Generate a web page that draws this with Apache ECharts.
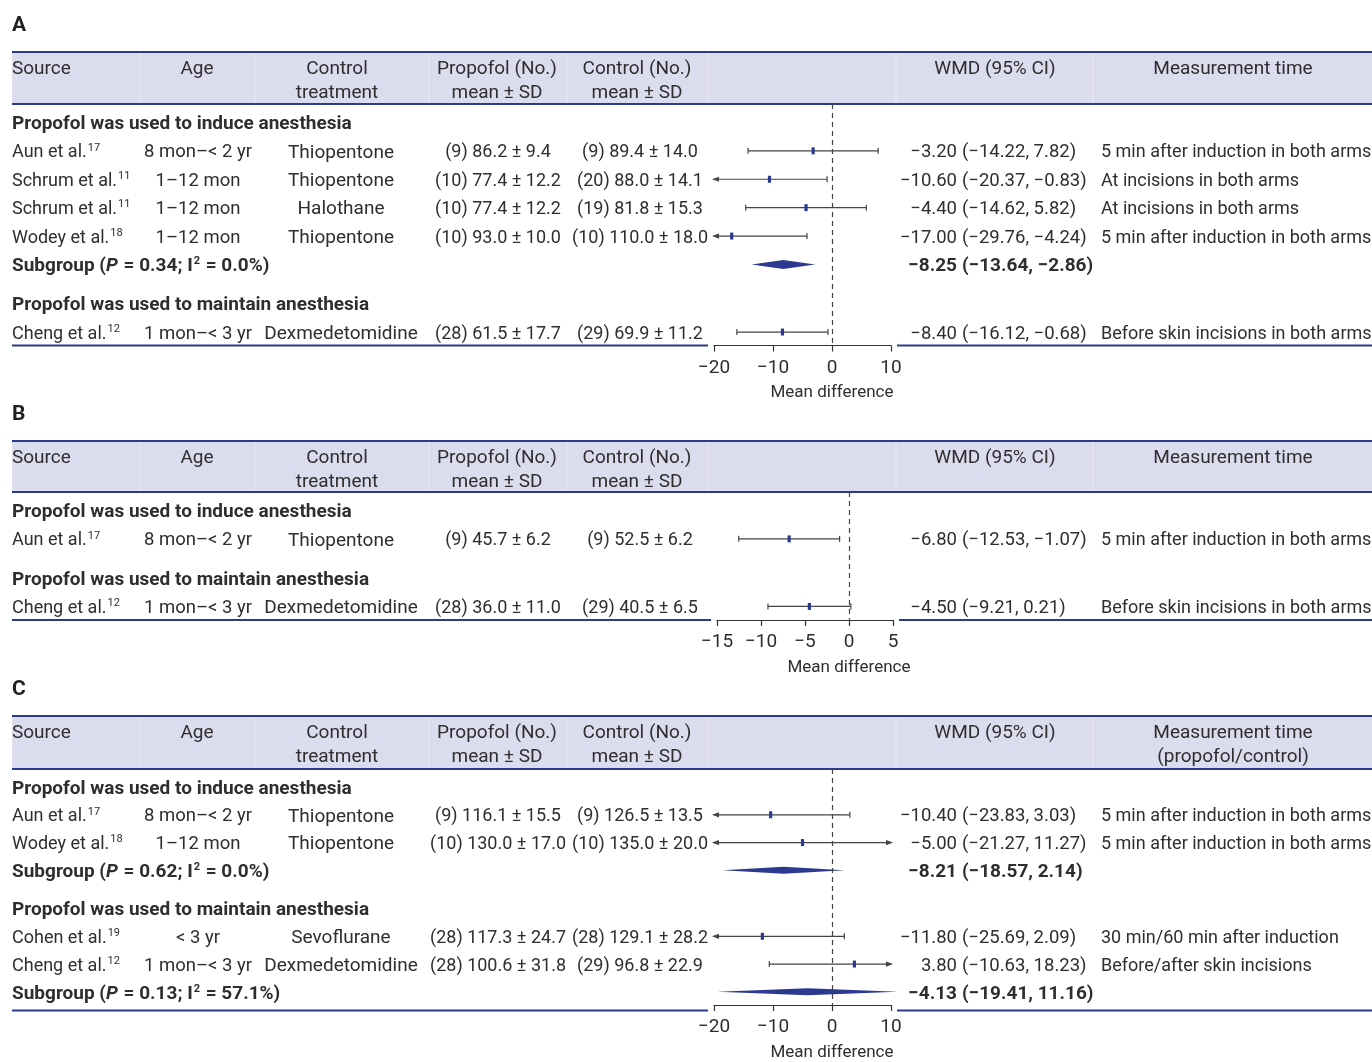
<!DOCTYPE html>
<html><head><meta charset="utf-8">
<script src="https://cdn.jsdelivr.net/npm/echarts@6/dist/echarts.min.js"></script>
<style>html,body{margin:0;padding:0;background:#fff}#c{width:1372px;height:1062px}</style>
</head><body><div id="c"></div>
<script>
// ---------------- DATA ----------------
const groupTitles = ['Propofol was used to induce anesthesia', 'Propofol was used to maintain anesthesia'];
const headerCols = ['Source', 'Age', 'Control\ntreatment', 'Propofol (No.)\nmean ± SD', 'Control (No.)\nmean ± SD', 'WMD (95% CI)'];
const axisName = 'Mean difference';

// Panel A
const A_source = ['Aun et al.', 'Schrum et al.', 'Schrum et al.', 'Wodey et al.', 'Cheng et al.'];
const A_ref = ['17', '11', '11', '18', '12'];
const A_group = [0, 0, 0, 0, 1];
const A_age = ['8 mon–< 2 yr', '1–12 mon', '1–12 mon', '1–12 mon', '1 mon–< 3 yr'];
const A_control = ['Thiopentone', 'Thiopentone', 'Halothane', 'Thiopentone', 'Dexmedetomidine'];
const A_propN = [9, 10, 10, 10, 28];
const A_propMean = [86.2, 77.4, 77.4, 93.0, 61.5];
const A_propSD = [9.4, 12.2, 12.2, 10.0, 17.7];
const A_ctrlN = [9, 20, 19, 10, 29];
const A_ctrlMean = [89.4, 88.0, 81.8, 110.0, 69.9];
const A_ctrlSD = [14.0, 14.1, 15.3, 18.0, 11.2];
const A_wmd = [-3.20, -10.60, -4.40, -17.00, -8.40];
const A_lo = [-14.22, -20.37, -14.62, -29.76, -16.12];
const A_hi = [7.82, -0.83, 5.82, -4.24, -0.68];
const A_time = ['5 min after induction in both arms', 'At incisions in both arms', 'At incisions in both arms', '5 min after induction in both arms', 'Before skin incisions in both arms'];
const A_subP = [0.34, null];
const A_subI2 = [0.0, null];
const A_subWmd = [-8.25, null];
const A_subLo = [-13.64, null];
const A_subHi = [-2.86, null];
const A_ticks = [-20, -10, 0, 10];
const A_timeHeader = 'Measurement time';

// Panel B
const B_source = ['Aun et al.', 'Cheng et al.'];
const B_ref = ['17', '12'];
const B_group = [0, 1];
const B_age = ['8 mon–< 2 yr', '1 mon–< 3 yr'];
const B_control = ['Thiopentone', 'Dexmedetomidine'];
const B_propN = [9, 28];
const B_propMean = [45.7, 36.0];
const B_propSD = [6.2, 11.0];
const B_ctrlN = [9, 29];
const B_ctrlMean = [52.5, 40.5];
const B_ctrlSD = [6.2, 6.5];
const B_wmd = [-6.80, -4.50];
const B_lo = [-12.53, -9.21];
const B_hi = [-1.07, 0.21];
const B_time = ['5 min after induction in both arms', 'Before skin incisions in both arms'];
const B_subP = [null, null];
const B_subI2 = [null, null];
const B_subWmd = [null, null];
const B_subLo = [null, null];
const B_subHi = [null, null];
const B_ticks = [-15, -10, -5, 0, 5];
const B_timeHeader = 'Measurement time';

// Panel C
const C_source = ['Aun et al.', 'Wodey et al.', 'Cohen et al.', 'Cheng et al.'];
const C_ref = ['17', '18', '19', '12'];
const C_group = [0, 0, 1, 1];
const C_age = ['8 mon–< 2 yr', '1–12 mon', '< 3 yr', '1 mon–< 3 yr'];
const C_control = ['Thiopentone', 'Thiopentone', 'Sevoflurane', 'Dexmedetomidine'];
const C_propN = [9, 10, 28, 28];
const C_propMean = [116.1, 130.0, 117.3, 100.6];
const C_propSD = [15.5, 17.0, 24.7, 31.8];
const C_ctrlN = [9, 10, 28, 29];
const C_ctrlMean = [126.5, 135.0, 129.1, 96.8];
const C_ctrlSD = [13.5, 20.0, 28.2, 22.9];
const C_wmd = [-10.40, -5.00, -11.80, 3.80];
const C_lo = [-23.83, -21.27, -25.69, -10.63];
const C_hi = [3.03, 11.27, 2.09, 18.23];
const C_time = ['5 min after induction in both arms', '5 min after induction in both arms', '30 min/60 min after induction', 'Before/after skin incisions'];
const C_subP = [0.62, 0.13];
const C_subI2 = [0.0, 57.1];
const C_subWmd = [-8.21, -4.13];
const C_subLo = [-18.57, -19.41];
const C_subHi = [2.14, 11.16];
const C_ticks = [-20, -10, 0, 10];
const C_timeHeader = 'Measurement time\n(propofol/control)';

// ---------------- STYLE / LAYOUT ----------------
const TXT = '#2e2e2e';
const NAVY = '#2c3a8e';
const MARK = '#2b3990';
const HEADBG = '#dcdcef';
const CI = '#444';
const FF = 'Roboto';
const REG = '18px ' + FF, BOLD = 'bold 19px ' + FF, ITB = 'italic bold 19px ' + FF;
const HDR = '19px ' + FF, CTRLF = '19px ' + FF, AGEF = '18.5px ' + FF, WMDF = '18.5px ' + FF, WMDB = 'bold 19px ' + FF;
const SUP = '11px ' + FF, SUPB = 'bold 11px ' + FF;
const TDY = 2;
const UNIT = 28.4, SPACER = 0.38, TOP_PAD = 0.65, BOT_PAD = 0.475;
const COL = {source: 12, age: 198, control: 341, prop: 498, ctrl: 640, wmdEst: 957, wmdCI: 962, time: 1101};
const HCOL = {source: 12, age: 197, control: 337, prop: 497, ctrl: 637, wmd: 995, time: 1233};

const panels = [
  {letter: 'A', headerTop: 52, headerBottom: 104, pxPerUnit: 5.9, zeroX: 832,
   source: A_source, ref: A_ref, group: A_group, age: A_age, control: A_control,
   propN: A_propN, propMean: A_propMean, propSD: A_propSD, ctrlN: A_ctrlN, ctrlMean: A_ctrlMean, ctrlSD: A_ctrlSD,
   wmd: A_wmd, lo: A_lo, hi: A_hi, time: A_time, subP: A_subP, subI2: A_subI2, subWmd: A_subWmd, subLo: A_subLo, subHi: A_subHi,
   ticks: A_ticks, timeHeader: A_timeHeader, diamondH: 4.5},
  {letter: 'B', headerTop: 441, headerBottom: 492, pxPerUnit: 8.8, zeroX: 849,
   source: B_source, ref: B_ref, group: B_group, age: B_age, control: B_control,
   propN: B_propN, propMean: B_propMean, propSD: B_propSD, ctrlN: B_ctrlN, ctrlMean: B_ctrlMean, ctrlSD: B_ctrlSD,
   wmd: B_wmd, lo: B_lo, hi: B_hi, time: B_time, subP: B_subP, subI2: B_subI2, subWmd: B_subWmd, subLo: B_subLo, subHi: B_subHi,
   ticks: B_ticks, timeHeader: B_timeHeader, diamondH: 4.5},
  {letter: 'C', headerTop: 716, headerBottom: 769, pxPerUnit: 5.9, zeroX: 832,
   source: C_source, ref: C_ref, group: C_group, age: C_age, control: C_control,
   propN: C_propN, propMean: C_propMean, propSD: C_propSD, ctrlN: C_ctrlN, ctrlMean: C_ctrlMean, ctrlSD: C_ctrlSD,
   wmd: C_wmd, lo: C_lo, hi: C_hi, time: C_time, subP: C_subP, subI2: C_subI2, subWmd: C_subWmd, subLo: C_subLo, subHi: C_subHi,
   ticks: C_ticks, timeHeader: C_timeHeader, diamondH: 3.5}
];

// ---------------- HELPERS ----------------
const _ctx = document.createElement('canvas').getContext('2d');
function tw(t, f) { _ctx.font = f; return _ctx.measureText(t).width; }
function num(v, d) { return (v < 0 ? '−' : '') + Math.abs(v).toFixed(d); }
function txt(t, x, y, f, align) {
  return {type: 'text', style: {text: t, x: x, y: y + TDY, font: f, fill: TXT, align: align || 'left', verticalAlign: 'middle'}};
}
function segs(x, y, list) {
  const out = []; let cx = x;
  list.forEach(s => {
    out.push({type: 'text', style: {text: s.t, x: cx, y: y + TDY + (s.dy || 0), font: s.f, fill: TXT, align: 'left', verticalAlign: 'middle'}});
    cx += tw(s.t, s.f) + (s.gap || 0);
  });
  return out;
}
function buildRows(P) {
  const rows = []; let y = 0;
  for (let g = 0; g < groupTitles.length; g++) {
    if (g > 0) y += SPACER;
    rows.push({type: 'title', g: g, y: y}); y += 1;
    P.group.forEach((gg, i) => { if (gg === g) { rows.push({type: 'study', i: i, y: y}); y += 1; } });
    if (P.subWmd[g] != null) { rows.push({type: 'sub', g: g, y: y}); y += 1; }
  }
  return {rows: rows, last: y - 1};
}

// ---------------- BUILD OPTION ----------------
const grids = [], xAxes = [], yAxes = [], series = [], graphics = [];

panels.forEach((P, pi) => {
  const {rows, last} = buildRows(P);
  const xmin = P.ticks[0], xmax = P.ticks[P.ticks.length - 1];
  const interval = P.ticks[1] - P.ticks[0];
  const gLeft = P.zeroX + xmin * P.pxPerUnit;
  const gWidth = (xmax - xmin) * P.pxPerUnit;
  const gHeight = (last + BOT_PAD + TOP_PAD) * UNIT;
  const gBottom = P.headerBottom + gHeight;
  const nameShift = P.zeroX - (gLeft + gWidth / 2);
  grids.push({left: gLeft, top: P.headerBottom, width: gWidth, height: gHeight});
  xAxes.push({
    type: 'value', gridIndex: pi, min: xmin, max: xmax, interval: interval,
    axisLine: {show: true, onZero: false, lineStyle: {color: '#333', width: 1.2}},
    axisTick: {show: true, length: 6, lineStyle: {color: '#333', width: 1.2}},
    splitLine: {show: false},
    axisLabel: {fontSize: 19, fontFamily: FF, color: TXT, margin: 13, formatter: v => (v < 0 ? '−' + (-v) : '' + v)},
    name: axisName, nameLocation: 'middle', nameGap: 39,
    nameTextStyle: {fontSize: 17, fontFamily: FF, color: TXT, padding: [0, 0, 0, 2 * nameShift]}
  });
  yAxes.push({type: 'value', gridIndex: pi, min: -TOP_PAD, max: last + BOT_PAD, inverse: true, show: false});

  // text rows
  series.push({
    type: 'custom', xAxisIndex: pi, yAxisIndex: pi, clip: false, silent: true, z: 5,
    data: rows.map(r => [0, r.y]),
    renderItem: function (params, api) {
      const r = rows[params.dataIndex];
      const yc = api.coord([0, r.y])[1];
      let ch = [];
      if (r.type === 'title') {
        ch.push(txt(groupTitles[r.g], COL.source, yc, BOLD));
      } else if (r.type === 'study') {
        const i = r.i;
        ch = ch.concat(segs(COL.source, yc, [{t: P.source[i], f: REG, gap: 1}, {t: P.ref[i], f: SUP, dy: -5}]));
        ch.push(txt(P.age[i], COL.age, yc, AGEF, 'center'));
        ch.push(txt(P.control[i], COL.control, yc, CTRLF, 'center'));
        ch.push(txt('(' + P.propN[i] + ') ' + P.propMean[i].toFixed(1) + ' ± ' + P.propSD[i].toFixed(1), COL.prop, yc, REG, 'center'));
        ch.push(txt('(' + P.ctrlN[i] + ') ' + P.ctrlMean[i].toFixed(1) + ' ± ' + P.ctrlSD[i].toFixed(1), COL.ctrl, yc, REG, 'center'));
        ch.push(txt(num(P.wmd[i], 2), COL.wmdEst, yc, WMDF, 'right'));
        ch.push(txt('(' + num(P.lo[i], 2) + ', ' + num(P.hi[i], 2) + ')', COL.wmdCI, yc, WMDF, 'left'));
        ch.push(txt(P.time[i], COL.time, yc, REG, 'left'));
      } else if (r.type === 'sub') {
        const g = r.g;
        ch = ch.concat(segs(COL.source, yc, [
          {t: 'Subgroup (', f: BOLD}, {t: 'P', f: ITB, gap: 1},
          {t: ' = ' + P.subP[g].toFixed(2) + '; I', f: BOLD, gap: 1},
          {t: '2', f: SUPB, dy: -5, gap: 1},
          {t: ' = ' + P.subI2[g].toFixed(1) + '%)', f: BOLD}]));
        ch.push(txt(num(P.subWmd[g], 2), COL.wmdEst, yc, WMDB, 'right'));
        ch.push(txt('(' + num(P.subLo[g], 2) + ', ' + num(P.subHi[g], 2) + ')', COL.wmdCI, yc, WMDB, 'left'));
      }
      return {type: 'group', children: ch};
    }
  });

  // forest marks
  const fRows = rows.filter(r => r.type !== 'title');
  series.push({
    type: 'custom', xAxisIndex: pi, yAxisIndex: pi, clip: false, silent: true, z: 4,
    data: fRows.map(r => [r.type === 'study' ? P.wmd[r.i] : P.subWmd[r.g], r.y]),
    renderItem: function (params, api) {
      const r = fRows[params.dataIndex];
      const yc = api.coord([0, r.y])[1];
      const X = v => api.coord([v, r.y])[0];
      const ch = [];
      const ls = {stroke: CI, lineWidth: 1.2};
      if (r.type === 'study') {
        const i = r.i, lo = P.lo[i], hi = P.hi[i], est = P.wmd[i];
        const xl = X(Math.max(lo, xmin)), xh = X(Math.min(hi, xmax));
        ch.push({type: 'line', shape: {x1: xl, y1: yc, x2: xh, y2: yc}, style: ls});
        if (lo < xmin) ch.push({type: 'polygon', shape: {points: [[xl - 2, yc], [xl + 5, yc - 2.6], [xl + 5, yc + 2.6]]}, style: {fill: CI}});
        else ch.push({type: 'line', shape: {x1: xl, y1: yc - 3, x2: xl, y2: yc + 3}, style: ls});
        if (hi > xmax) ch.push({type: 'polygon', shape: {points: [[xh + 2, yc], [xh - 5, yc - 2.6], [xh - 5, yc + 2.6]]}, style: {fill: CI}});
        else ch.push({type: 'line', shape: {x1: xh, y1: yc - 3, x2: xh, y2: yc + 3}, style: ls});
        const xe = X(est);
        ch.push({type: 'rect', shape: {x: xe - 1.6, y: yc - 3.5, width: 3.2, height: 7}, style: {fill: MARK}});
      } else {
        const g = r.g, h = P.diamondH;
        const xl = X(P.subLo[g]), xh = X(P.subHi[g]), xe = X(P.subWmd[g]);
        ch.push({type: 'polygon', shape: {points: [[xl, yc], [xe, yc - h], [xh, yc], [xe, yc + h]]}, style: {fill: MARK}});
      }
      return {type: 'group', children: ch};
    },
    markLine: {
      silent: true, symbol: ['none', 'none'], label: {show: false},
      lineStyle: {type: [5, 4], color: '#444', width: 1.2},
      data: [{xAxis: 0}]
    }
  });

  // decorative layout: panel letter, header band, rules, header text
  const H = P.headerTop, HB = P.headerBottom;
  graphics.push({type: 'text', left: 12, top: H - 37, style: {text: P.letter, font: 'bold 21px ' + FF, fill: '#222'}});
  graphics.push({type: 'rect', shape: {x: 12, y: H, width: 1360, height: HB - H}, style: {fill: HEADBG}, z: 0});
  [140, 255, 429, 567, 708, 896, 1093].forEach(x => graphics.push({type: 'line', shape: {x1: x, y1: H + 1, x2: x, y2: HB - 1}, style: {stroke: '#e8e8f6', lineWidth: 1}, z: 1}));
  graphics.push({type: 'line', shape: {x1: 12, y1: H, x2: 1372, y2: H}, style: {stroke: NAVY, lineWidth: 2}, z: 2});
  graphics.push({type: 'line', shape: {x1: 12, y1: HB, x2: 1372, y2: HB}, style: {stroke: NAVY, lineWidth: 2}, z: 2});
  graphics.push({type: 'line', shape: {x1: 12, y1: gBottom, x2: gLeft - 6, y2: gBottom}, style: {stroke: NAVY, lineWidth: 2}, z: 2});
  graphics.push({type: 'line', shape: {x1: gLeft + gWidth + 6, y1: gBottom, x2: 1372, y2: gBottom}, style: {stroke: NAVY, lineWidth: 2}, z: 2});
  const hy = H + 15 + TDY;
  const hdr = [
    [headerCols[0], HCOL.source, 'left'], [headerCols[1], HCOL.age, 'center'], [headerCols[2], HCOL.control, 'center'],
    [headerCols[3], HCOL.prop, 'center'], [headerCols[4], HCOL.ctrl, 'center'], [headerCols[5], HCOL.wmd, 'center'],
    [P.timeHeader, HCOL.time, 'center']
  ];
  hdr.forEach(h => {
    h[0].split('\n').forEach((line, k) => {
      graphics.push({type: 'text', z: 3, style: {text: line, x: h[1], y: hy + k * 24, font: HDR, fill: TXT, align: h[2], verticalAlign: 'middle'}});
    });
  });
});

const chart = echarts.init(document.getElementById('c'), null, {renderer: 'canvas'});
chart.setOption({
  animation: false,
  backgroundColor: '#fff',
  grid: grids, xAxis: xAxes, yAxis: yAxes, series: series, graphic: graphics
});
</script>
</body></html>
